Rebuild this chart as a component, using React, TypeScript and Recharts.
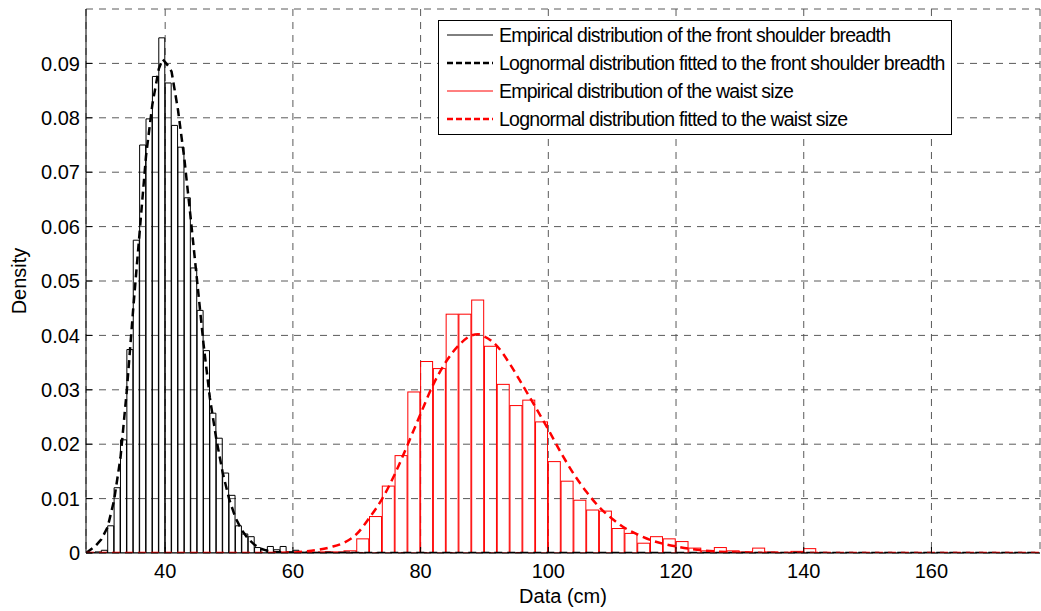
import React from 'react';
import {
  ComposedChart,
  Bar,
  Line,
  XAxis,
  YAxis,
  CartesianGrid,
  Legend,
} from 'recharts';

const FONT = 'Arial, "Liberation Sans", Helvetica, sans-serif';

const X_DOMAIN: [number, number] = [27.6, 177];
const Y_DOMAIN: [number, number] = [0, 0.1];
const X_TICKS = [40, 60, 80, 100, 120, 140, 160];
const Y_TICKS = [0, 0.01, 0.02, 0.03, 0.04, 0.05, 0.06, 0.07, 0.08, 0.09];

// front shoulder breadth histogram, 1 cm bins, first bin is 27-28
const SHOULDER_BIN_START = 27;
const SHOULDER_HIST = [
  0, 0.0001, 0.0002, 0.0005, 0.005, 0.012, 0.0208, 0.0374, 0.0575, 0.075,
  0.0798, 0.0876, 0.0947, 0.0864, 0.0786, 0.0746, 0.0653, 0.0524, 0.0446, 0.0372,
  0.0257, 0.0211, 0.0147, 0.0106, 0.005, 0.0035, 0.003, 0.001, 0.0006, 0.0012,
  0.0006, 0.0012, 0.0002, 0.0005, 0.0001, 0.0002, 0.0001, 0.0001, 0.0002, 0.0001,
  0.0001, 0.0002, 0.0001, 0.0001, 0, 0, 0.0001, 0, 0, 0,
  0.0001, 0, 0, 0.0001, 0, 0, 0, 0.0001, 0, 0,
  0, 0, 0, 0.0001, 0, 0, 0, 0, 0.0001, 0,
  0, 0, 0, 0, 0, 0, 0, 0, 0, 0,
  0, 0, 0, 0, 0, 0, 0, 0, 0, 0,
  0, 0, 0, 0, 0, 0, 0, 0, 0, 0,
  0, 0, 0, 0, 0, 0, 0, 0, 0, 0,
  0, 0, 0, 0, 0, 0, 0, 0, 0, 0,
  0, 0, 0, 0, 0, 0, 0, 0, 0, 0,
  0, 0, 0, 0, 0, 0, 0, 0, 0, 0,
  0, 0, 0, 0, 0, 0, 0, 0, 0, 0,
];

// waist size histogram, 2 cm bins, first bin is 28-30 (null = no bin)
const WAIST_BIN_START = 28;
const WAIST_HIST = [
  null, null, null, null, null, null, null, null, null, null,
  null, null, null, null, null, null, 0.0001, 0.0001, 0.0002, 0.0002,
  0.0004, 0.0026, 0.0067, 0.0123, 0.0179, 0.0296, 0.0352, 0.0339, 0.0439, 0.0439,
  0.0465, 0.038, 0.031, 0.0271, 0.0281, 0.0241, 0.0168, 0.0132, 0.0097, 0.0079,
  0.0077, 0.0045, 0.0036, 0.0018, 0.003, 0.0026, 0.0021, 0.0009, 0.0004, 0.001,
  0.0004, 0.0002, 0.0009, 0.0002, 0.0001, 0.0003, 0.0008, 0.0001, 0, 0,
  0, 0, 0, 0, 0, 0, 0, 0, 0, 0,
  0, 0, 0, 0, 0,
];

// fitted lognormal curves
const SHOULDER_FIT_X = [
  27.6, 29, 30, 31, 32, 33, 34, 35, 36, 37,
  38, 39, 39.6, 40.5, 41, 42, 43, 44, 45, 46,
  47, 48, 49, 50, 51, 52, 53, 54, 55, 56,
  57, 59, 62, 177,
];
const SHOULDER_FIT_Y = [
  0, 0.0012, 0.0025, 0.0048, 0.0097, 0.0175, 0.03, 0.045, 0.059, 0.073,
  0.0825, 0.089, 0.0908, 0.0895, 0.0885, 0.0815, 0.0725, 0.0615, 0.05, 0.0385,
  0.0285, 0.021, 0.0148, 0.01, 0.0065, 0.0042, 0.0026, 0.0015, 0.0008, 0.0004,
  0.0002, 0.0001, 0, 0,
];
const WAIST_FIT_X = [
  27.6, 56, 60, 62, 64, 66, 68, 70, 72, 74,
  76, 78, 80, 82, 84, 86, 88, 89, 90, 92,
  94, 96, 98, 100, 102, 104, 106, 108, 110, 112,
  114, 116, 118, 120, 122, 124, 126, 130, 136, 177,
];
const WAIST_FIT_Y = [
  0, 0, 0.0001, 0.0003, 0.0006, 0.0011, 0.0019, 0.0035, 0.0065, 0.01,
  0.0146, 0.02, 0.0256, 0.031, 0.0352, 0.0382, 0.04, 0.0402, 0.0398, 0.038,
  0.0347, 0.0308, 0.0268, 0.0227, 0.0184, 0.0145, 0.0112, 0.0084, 0.0063, 0.0046,
  0.0034, 0.0024, 0.0017, 0.0012, 0.0008, 0.0005, 0.0003, 0.0001, 0, 0,
];

const LEGEND_LABELS = [
  'Empirical distribution of the front shoulder breadth',
  'Lognormal distribution fitted to the front shoulder breadth',
  'Empirical distribution of the waist size',
  'Lognormal distribution fitted to the waist size',
];

// one row per 1 cm bin; a waist bin sits on the row of its left half
const rows = SHOULDER_HIST.map((v, i) => {
  const left = SHOULDER_BIN_START + i;
  const j = (left - WAIST_BIN_START) / 2;
  return {
    x: left + 0.5,
    shoulder: v,
    waist: Number.isInteger(j) && j >= 0 ? WAIST_HIST[j] : null,
  };
});

const shoulderFit = SHOULDER_FIT_X.map((x, i) => ({ x, y: SHOULDER_FIT_Y[i] }));
const waistFit = WAIST_FIT_X.map((x, i) => ({ x, y: WAIST_FIT_Y[i] }));

// waist bins are two rows wide
const WaistBar = (props: any) => {
  const { x, y, width, height } = props;
  if (!(height > 0)) return <g />;
  return (
    <rect x={x} y={y} width={width * 2} height={height} fill='none' stroke='#ff0000' strokeWidth={1} />
  );
};

const legendStyles = [
  { color: '#000', width: 1, dash: undefined },
  { color: '#000', width: 2.5, dash: '6 3' },
  { color: '#ff0000', width: 1, dash: undefined },
  { color: '#ff0000', width: 2.5, dash: '6 3' },
];

function LegendBox() {
  return (
    <div
      style={{
        border: '1px solid #000',
        background: '#fff',
        padding: '0 6px 1px 8px',
        fontFamily: FONT,
        fontSize: 19.5,
        letterSpacing: -0.75,
        color: '#000',
        whiteSpace: 'nowrap',
        width: 'max-content',
      }}
    >
      {LEGEND_LABELS.map((label, i) => (
        <div key={label} style={{ display: 'flex', alignItems: 'center', height: 28 }}>
          <svg width={46} height={6} style={{ marginRight: 6 }}>
            <line
              x1={0}
              y1={3}
              x2={46}
              y2={3}
              stroke={legendStyles[i].color}
              strokeWidth={legendStyles[i].width}
              strokeDasharray={legendStyles[i].dash}
            />
          </svg>
          <span>{label}</span>
        </div>
      ))}
    </div>
  );
}

const DensityLabel = (props: any) => {
  const { x, y, height } = props.viewBox;
  const cx = x + 19;
  const cy = y + height / 2;
  return (
    <text
      x={cx}
      y={cy}
      transform={`rotate(-90, ${cx}, ${cy})`}
      textAnchor='middle'
      dominantBaseline='central'
      fontSize={20}
      fill='#000'
      fontFamily={FONT}
    >
      Density
    </text>
  );
};

export default function App() {
  const tick = { fontSize: 20, fill: '#000', fontFamily: FONT };
  return (
    <div
      style={{
        position: 'absolute',
        left: 0,
        top: 0,
        width: 1041,
        height: 611,
        background: '#fff',
        fontFamily: FONT,
      }}
    >
      <ComposedChart
        width={1041}
        height={611}
        data={rows}
        margin={{ top: 9, right: 1, bottom: 0, left: 0 }}
        barCategoryGap={0}
        barGap={0}
      >
        <CartesianGrid stroke='#5a5a5a' strokeDasharray='7 6' />
        <XAxis
          dataKey='x'
          type='number'
          domain={X_DOMAIN}
          ticks={X_TICKS}
          allowDataOverflow
          height={58}
          stroke='#000'
          tick={tick}
          tickSize={-6}
          tickMargin={17}
          label={{ value: 'Data (cm)', position: 'insideBottom', offset: 8, fontSize: 20, fill: '#000' }}
        />
        <XAxis xAxisId='top' orientation='top' dataKey='x' type='number' domain={X_DOMAIN} ticks={X_TICKS}
          allowDataOverflow height={0} stroke='#000' tick={false} tickSize={-6} />
        <XAxis xAxisId='waist' dataKey='x' type='number' domain={X_DOMAIN} allowDataOverflow hide />
        <XAxis xAxisId='fit' dataKey='x' type='number' domain={X_DOMAIN} allowDataOverflow hide />
        <YAxis
          type='number'
          domain={Y_DOMAIN}
          ticks={Y_TICKS}
          allowDataOverflow
          width={86}
          stroke='#000'
          tick={tick}
          tickSize={-6}
          tickMargin={12}
          label={<DensityLabel />}
        />
        <YAxis yAxisId='right' orientation='right' type='number' domain={Y_DOMAIN} ticks={Y_TICKS}
          allowDataOverflow width={0} stroke='#000' tick={false} tickSize={-6} />
        <Bar dataKey='shoulder' fill='none' stroke='#000' strokeWidth={1} isAnimationActive={false} />
        <Line
          data={shoulderFit}
          xAxisId='fit'
          dataKey='y'
          type='linear'
          stroke='#000'
          strokeWidth={2.5}
          strokeDasharray='8 5'
          dot={false}
          isAnimationActive={false}
        />
        <Bar xAxisId='waist' dataKey='waist' shape={<WaistBar />} isAnimationActive={false} />
        <Line
          data={waistFit}
          xAxisId='fit'
          dataKey='y'
          type='monotone'
          stroke='#ff0000'
          strokeWidth={2.5}
          strokeDasharray='8 5'
          dot={false}
          isAnimationActive={false}
        />
        <Legend
          layout='vertical'
          align='center'
          verticalAlign='middle'
          wrapperStyle={{ top: 20, left: 438, width: 'auto' }}
          content={() => <LegendBox />}
        />
      </ComposedChart>
    </div>
  );
}
